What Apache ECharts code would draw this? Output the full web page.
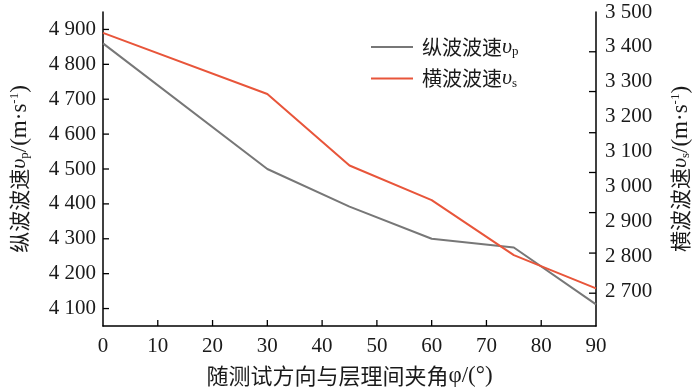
<!DOCTYPE html>
<html>
<head>
<meta charset="utf-8">
<script src="https://cdn.jsdelivr.net/npm/echarts@6/dist/echarts.min.js"></script>
<style>
html,body{margin:0;padding:0;background:#fff;}
#chart{width:700px;height:392px;}
</style>
</head>
<body>
<div id="chart"></div>
<script>
// ---- data ----
const angles = [0, 30, 45, 60, 75, 90];
const vpValues = [4860, 4500, 4392, 4300, 4275, 4112];
const vsValues = [3440, 3265, 3060, 2961, 2803, 2708];
const seriesNames = ['纵波波速υp', '横波波速υs'];
const xTicks = [10, 20, 30, 40, 50, 60, 70, 80];
const leftTicks = [4100, 4200, 4300, 4400, 4500, 4600, 4700, 4800, 4900];
const rightLabels = [2700, 2800, 2900, 3000, 3100, 3200, 3300, 3400, 3500];
const rightTickMarks = [3386, 3272, 3154, 3040, 2925, 2809, 2694];

const serif = 'Liberation Serif';
const cjk = 'Noto Sans CJK SC';
const ink = '#1a1a1a';
const fmt = v => Math.floor(v / 1000) + ' ' + String(v % 1000).padStart(3, '0');

const richBase = {
  c: {fontFamily: cjk, fontSize: 20, color: ink},
  it: {fontFamily: serif, fontStyle: 'italic', fontSize: 22, color: ink},
  sub: {fontFamily: serif, fontSize: 13, color: ink, padding: [10, 0, 0, 0]},
  r: {fontFamily: serif, fontSize: 23, color: ink},
  sup: {fontFamily: serif, fontSize: 13, color: ink, padding: [0, 0, 10, 0]}
};
const richName = Object.assign({}, richBase, {c: {fontFamily: cjk, fontSize: 21, color: ink}});

const gridBox = {left: 101, right: 100, top: 12, bottom: 66};
const xRange = [0, 90];
const yRanges = [[4050, 4950], [2600, 3500]];

const chart = echarts.init(document.getElementById('chart'), null, {renderer: 'canvas'});
chart.setOption({
  animation: false,
  backgroundColor: '#fff',
  grid: gridBox,
  legend: {
    orient: 'vertical',
    left: 366,
    top: 31,
    icon: 'rect',
    itemWidth: 42,
    itemHeight: 2,
    itemGap: 9,
    data: seriesNames,
    formatter: n => '{c|' + n.slice(0, 4) + '}{it|υ}{sub|' + n.slice(5) + '}',
    textStyle: {padding: [0, 0, 0, 4], rich: richBase}
  },
  xAxis: {
    type: 'value', min: xRange[0], max: xRange[1], interval: 10,
    name: '{c|随测试方向与层理间夹角}{r|φ/(°)}',
    nameLocation: 'middle', nameGap: 38,
    nameTextStyle: {rich: Object.assign({}, richName, {c: {fontFamily: cjk, fontSize: 22, color: ink}})},
    axisLine: {show: true, onZero: false, lineStyle: {color: '#000', width: 1.5}},
    axisTick: {show: false},
    axisLabel: {margin: 10, fontFamily: serif, fontSize: 21, color: ink},
    splitLine: {show: false}
  },
  yAxis: [
    {
      type: 'value', min: yRanges[0][0], max: yRanges[0][1], position: 'left',
      name: '{c|纵波波速}{it|υ}{sub|p}{r|/(m·s}{sup|-1}{r|)}',
      nameLocation: 'middle', nameGap: 72, nameRotate: 90,
      nameTextStyle: {rich: richName},
      axisLine: {show: true, onZero: false, lineStyle: {color: '#000', width: 1.5}},
      axisTick: {show: false},
      axisLabel: {customValues: leftTicks, formatter: fmt, margin: 7, fontFamily: serif, fontSize: 21, color: ink},
      splitLine: {show: false}
    },
    {
      type: 'value', min: yRanges[1][0], max: yRanges[1][1], position: 'right',
      name: '{c|横波波速}{it|υ}{sub|s}{r|/(m·s}{sup|-1}{r|)}',
      nameLocation: 'middle', nameGap: 73, nameRotate: 90,
      nameTextStyle: {rich: richName},
      axisLine: {show: true, onZero: false, lineStyle: {color: '#000', width: 1.5}},
      axisTick: {show: false},
      axisLabel: {customValues: rightLabels, formatter: fmt, margin: 9, fontFamily: serif, fontSize: 21, color: ink},
      splitLine: {show: false}
    }
  ],
  series: [
    {
      name: seriesNames[0], type: 'line', yAxisIndex: 0, symbol: 'none',
      data: angles.map((a, i) => [a, vpValues[i]]),
      lineStyle: {color: '#777777', width: 2}, itemStyle: {color: '#777777'}
    },
    {
      name: seriesNames[1], type: 'line', yAxisIndex: 1, symbol: 'none',
      data: angles.map((a, i) => [a, vsValues[i]]),
      lineStyle: {color: '#e8553a', width: 2}, itemStyle: {color: '#e8553a'}
    }
  ]
});

// pixel position of a value pair, via the chart's own axes (with a linear fallback)
function px(xv, yv, yIdx) {
  let p = null;
  try { p = chart.convertToPixel({xAxisIndex: 0, yAxisIndex: yIdx}, [xv, yv]); } catch (e) { p = null; }
  if (!p || !isFinite(p[0]) || !isFinite(p[1])) {
    const W = chart.getWidth(), H = chart.getHeight();
    const x0 = gridBox.left, x1 = W - gridBox.right, y0 = H - gridBox.bottom, y1 = gridBox.top;
    const r = yRanges[yIdx];
    p = [x0 + (xv - xRange[0]) / (xRange[1] - xRange[0]) * (x1 - x0),
         y0 - (yv - r[0]) / (r[1] - r[0]) * (y0 - y1)];
  }
  return p;
}

// inward tick marks
const tick = (a, b) => ({
  type: 'line', silent: true, z: 100,
  shape: {x1: a[0], y1: a[1], x2: b[0], y2: b[1]},
  style: {stroke: '#000', lineWidth: 1.3}
});
const els = [];
leftTicks.forEach(v => {
  const p = px(xRange[0], v, 0);
  els.push(tick(p, [p[0] + 6, p[1]]));
});
rightTickMarks.forEach(v => {
  const p = px(xRange[1], v, 1);
  els.push(tick(p, [p[0] - 7, p[1]]));
});
xTicks.forEach(v => {
  const p = px(v, yRanges[0][0], 0);
  els.push(tick(p, [p[0], p[1] - 6]));
});
chart.setOption({graphic: els});
</script>
</body>
</html>
